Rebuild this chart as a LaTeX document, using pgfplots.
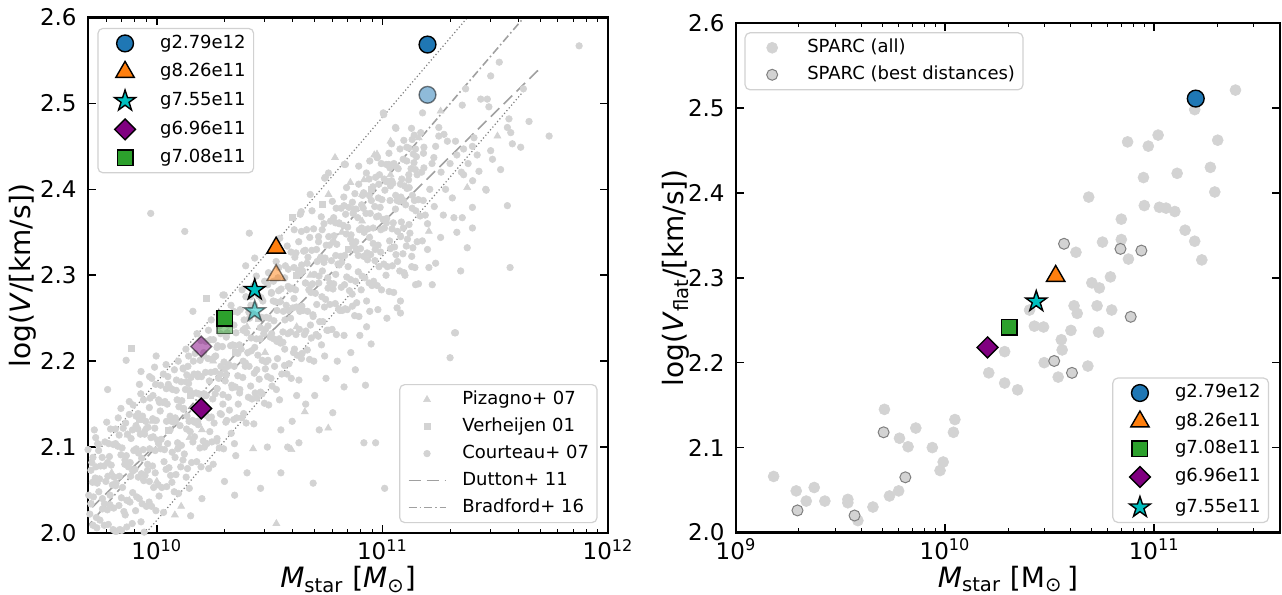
\documentclass[border=0pt]{standalone}
\usepackage{fontspec}
\setmainfont{DejaVu Sans}
\usepackage{pgfplots}
\pgfplotsset{compat=1.18}

\definecolor{cblue}{HTML}{1F77B4}
\definecolor{corange}{HTML}{FF7F0E}
\definecolor{ccyan}{HTML}{00BFBF}
\definecolor{cpurple}{HTML}{800080}
\definecolor{cgreen}{HTML}{2CA02C}
\definecolor{lgray}{HTML}{D3D3D3}
\definecolor{dgray}{HTML}{A0A0A0}
\definecolor{mgray}{HTML}{808080}

% filled star and square diamond (matplotlib '*' and 'D')
\pgfdeclareplotmark{fstar}{%
  \pgfpathmoveto{\pgfpointpolar{90}{\pgfplotmarksize}}%
  \pgfpathlineto{\pgfpointpolar{126}{0.382\pgfplotmarksize}}%
  \pgfpathlineto{\pgfpointpolar{162}{\pgfplotmarksize}}%
  \pgfpathlineto{\pgfpointpolar{198}{0.382\pgfplotmarksize}}%
  \pgfpathlineto{\pgfpointpolar{234}{\pgfplotmarksize}}%
  \pgfpathlineto{\pgfpointpolar{270}{0.382\pgfplotmarksize}}%
  \pgfpathlineto{\pgfpointpolar{306}{\pgfplotmarksize}}%
  \pgfpathlineto{\pgfpointpolar{342}{0.382\pgfplotmarksize}}%
  \pgfpathlineto{\pgfpointpolar{18}{\pgfplotmarksize}}%
  \pgfpathlineto{\pgfpointpolar{54}{0.382\pgfplotmarksize}}%
  \pgfpathclose\pgfusepathqfillstroke}
\pgfdeclareplotmark{fdiamond}{%
  \pgfpathmoveto{\pgfqpoint{0pt}{\pgfplotmarksize}}%
  \pgfpathlineto{\pgfqpoint{\pgfplotmarksize}{0pt}}%
  \pgfpathlineto{\pgfqpoint{0pt}{-\pgfplotmarksize}}%
  \pgfpathlineto{\pgfqpoint{-\pgfplotmarksize}{0pt}}%
  \pgfpathclose\pgfusepathqfillstroke}

\pgfplotsset{
  frame/.style={
    scale only axis, axis on top,
    axis line style={line width=1.25pt},
    tick align=inside,
    major tick length=4pt, minor tick length=2.2pt,
    major tick style={black,line width=0.8pt},
    minor tick style={black,line width=0.5pt},
    ymin=2.0, ymax=2.6,
    ytick={2.0,2.1,2.2,2.3,2.4,2.5,2.6},
    yticklabels={2.0,2.1,2.2,2.3,2.4,2.5,2.6},
    tick label style={font=\fontsize{11.5}{13}\selectfont},
    yticklabel style={anchor=east,inner sep=0pt,xshift=-5.5pt},
    xticklabel style={anchor=base,yshift=-13.5pt},
    label style={font=\fontsize{14}{16}\selectfont},
    xlabel style={at={(axis description cs:0.5,0)},anchor=base,yshift=-27.5pt},
  },
  leg/.style={
    legend cell align=left,
    legend style={font=\fontsize{9}{10}\selectfont, draw=black!18, line width=0.6pt,
      rounded corners=2.5pt, fill=white, inner xsep=4pt, inner ysep=3pt, row sep=4.5pt,
      nodes={inner sep=0pt, text height=6.8pt, text depth=2.2pt},
      /tikz/every odd column/.append style={column sep=8pt}},
    legend image post style={sharp corners},
    legend image code/.code={\draw[mark repeat=2,mark phase=2,##1] plot coordinates {(0pt,0pt) (9.25pt,0pt) (18.5pt,0pt)};},
  },
  mleg/.style={legend image code/.code={\path (0pt,0pt) (18.5pt,0pt); \draw[##1] plot coordinates {(9.25pt,0pt)};}},
  simsolid/.style={only marks, mleg, mark options={draw=black, line width=0.7pt}},
  simfaded/.style={only marks, forget plot, mark options={draw=black, line width=0.7pt, fill opacity=0.5, draw opacity=0.5}},
  obs/.style={only marks, mleg, color=lgray, mark options={draw=lgray, fill=lgray, line width=0.3pt}},
}

\begin{document}
\begin{tikzpicture}
\path[use as bounding box] (0,0) rectangle (641pt,297.5pt);

% ---------------- left panel: observed sample and relations
\begin{axis}[frame, leg,
  at={(44pt,31pt)}, anchor=south west, width=260pt, height=257.75pt,
  xmin=9.695, xmax=12,
  xtick={10,11,12},
  xticklabels={10\textsuperscript{10},10\textsuperscript{11},10\textsuperscript{12}},
  minor xtick={9.69897,9.77815,9.84510,9.90309,9.95424,10.30103,10.47712,10.60206,10.69897,10.77815,10.84510,10.90309,10.95424,11.30103,11.47712,11.60206,11.69897,11.77815,11.84510,11.90309,11.95424},
  xlabel={\textit{M}\textsubscript{star} [\textit{M}\textsubscript{⊙}]},
  ylabel={log(\textit{V}/[km/s])},
  ylabel style={at={(axis description cs:-0.125,0.5)},anchor=center},
  legend style={at={(0.980,0.019)},anchor=south east},
]
% Pizagno+ 07
\addplot[obs, mark=triangle*, mark size=2.0pt] coordinates {
(10.656,2.141) (10.76,2.122) (10.597,2.097) (10.427,2.098) (10.53,2.011) (10.108,2.031) (10.08,2.021)
(9.945,2.12) (9.871,2.114) (10.145,2.111) (9.878,2.038) (11.036,2.456) (11.161,2.46) (11.258,2.491)
(10.858,2.408) (10.91,2.394) (10.761,2.394) (11.036,2.417) (10.918,2.411) (10.964,2.44) (10.79,2.437)
(10.976,2.441) (10.91,2.363) (11.206,2.351) (11.51,2.462) (11.376,2.402) (10.40,2.24) (10.30,2.19)
(10.55,2.27) (10.68,2.30) (10.25,2.20) (10.48,2.21) (9.98,2.13) (10.2,2.12) (10.62,2.24) (10.82,2.35)
(9.80,2.07) (10.0,2.06)};
\addlegendentry{Pizagno+ 07}
% Verheijen 01
\addplot[obs, mark=square*, mark size=1.5pt] coordinates {
(10.219,2.273) (9.886,2.215) (9.923,2.132) (10.732,2.382) (10.60,2.367) (10.45,2.25) (10.62,2.30)
(10.85,2.33) (10.35,2.21) (10.15,2.16) (10.95,2.40) (10.05,2.12)};
\addlegendentry{Verheijen 01}
% Courteau+ 07
\addplot[obs, mark=*, mark size=1.65pt] coordinates {
(9.696,1.943) (9.706,1.974) (9.693,1.995) (9.703,2.022) (9.698,2.044) (9.708,2.073) (9.695,2.097)
(9.730,1.962) (9.722,1.989) (9.732,2.018) (9.719,2.042) (9.727,2.064) (9.717,2.088) (9.729,2.111)
(9.744,1.949) (9.754,1.979) (9.748,2.015) (9.759,2.028) (9.746,2.063) (9.751,2.078) (9.741,2.103)
(9.777,1.980) (9.767,2.009) (9.781,2.027) (9.774,2.060) (9.782,2.082) (9.770,2.106) (9.778,2.129)
(9.796,1.974) (9.806,2.004) (9.793,2.044) (9.803,2.056) (9.798,2.079) (9.808,2.103) (9.795,2.121)
(9.830,1.973) (9.822,2.002) (9.832,2.032) (9.819,2.058) (9.827,2.101) (9.817,2.121) (9.829,2.134)
(9.844,2.003) (9.854,2.025) (9.848,2.053) (9.859,2.085) (9.846,2.099) (9.851,2.122) (9.841,2.145)
(9.877,1.996) (9.867,2.007) (9.881,2.036) (9.874,2.077) (9.882,2.082) (9.870,2.115) (9.878,2.138)
(9.896,1.995) (9.906,2.026) (9.893,2.047) (9.903,2.074) (9.898,2.096) (9.908,2.125) (9.895,2.149)
(9.930,2.013) (9.922,2.040) (9.932,2.069) (9.919,2.093) (9.927,2.115) (9.917,2.139) (9.929,2.162)
(9.944,2.001) (9.954,2.031) (9.948,2.067) (9.959,2.080) (9.946,2.115) (9.951,2.130) (9.941,2.155)
(9.977,2.031) (9.967,2.060) (9.981,2.078) (9.974,2.111) (9.982,2.133) (9.970,2.157) (9.978,2.180)
(9.996,2.026) (10.006,2.056) (9.993,2.096) (10.003,2.108) (9.998,2.131) (10.008,2.155) (9.995,2.173)
(10.030,2.024) (10.022,2.053) (10.032,2.083) (10.019,2.109) (10.027,2.152) (10.017,2.172) (10.029,2.185)
(10.044,2.054) (10.054,2.076) (10.048,2.104) (10.059,2.136) (10.046,2.150) (10.051,2.173) (10.041,2.196)
(10.077,2.048) (10.067,2.059) (10.081,2.088) (10.074,2.129) (10.082,2.134) (10.070,2.167) (10.078,2.190)
(10.096,2.046) (10.106,2.077) (10.093,2.098) (10.103,2.125) (10.098,2.147) (10.108,2.176) (10.095,2.200)
(10.130,2.065) (10.122,2.092) (10.132,2.121) (10.119,2.145) (10.127,2.167) (10.117,2.191) (10.129,2.214)
(10.144,2.052) (10.154,2.082) (10.148,2.118) (10.159,2.131) (10.146,2.166) (10.151,2.181) (10.141,2.206)
(10.177,2.083) (10.167,2.112) (10.181,2.130) (10.174,2.163) (10.182,2.185) (10.170,2.209) (10.178,2.232)
(10.196,2.077) (10.206,2.107) (10.193,2.147) (10.203,2.159) (10.198,2.182) (10.208,2.206) (10.195,2.224)
(10.230,2.075) (10.222,2.104) (10.232,2.134) (10.219,2.160) (10.227,2.203) (10.217,2.223) (10.229,2.236)
(10.244,2.106) (10.254,2.128) (10.248,2.156) (10.259,2.188) (10.246,2.202) (10.251,2.225) (10.241,2.248)
(10.277,2.099) (10.267,2.110) (10.281,2.139) (10.274,2.180) (10.282,2.185) (10.270,2.218) (10.278,2.241)
(10.296,2.098) (10.306,2.129) (10.293,2.150) (10.303,2.177) (10.298,2.199) (10.308,2.228) (10.295,2.252)
(10.330,2.116) (10.322,2.143) (10.332,2.172) (10.319,2.196) (10.327,2.218) (10.317,2.242) (10.329,2.265)
(10.344,2.104) (10.354,2.134) (10.348,2.170) (10.359,2.183) (10.346,2.218) (10.351,2.233) (10.341,2.258)
(10.377,2.134) (10.367,2.163) (10.381,2.181) (10.374,2.214) (10.382,2.236) (10.370,2.260) (10.378,2.283)
(10.396,2.128) (10.406,2.158) (10.393,2.198) (10.403,2.210) (10.398,2.233) (10.408,2.257) (10.395,2.275)
(10.430,2.127) (10.422,2.156) (10.432,2.186) (10.419,2.212) (10.427,2.255) (10.417,2.275) (10.429,2.288)
(10.444,2.157) (10.454,2.179) (10.448,2.207) (10.459,2.239) (10.446,2.253) (10.451,2.276) (10.441,2.299)
(10.477,2.151) (10.467,2.162) (10.481,2.191) (10.474,2.232) (10.482,2.237) (10.470,2.270) (10.478,2.293)
(10.496,2.149) (10.506,2.180) (10.493,2.201) (10.503,2.228) (10.498,2.250) (10.508,2.279) (10.495,2.303)
(10.530,2.167) (10.522,2.194) (10.532,2.223) (10.519,2.247) (10.527,2.269) (10.517,2.293) (10.529,2.316)
(10.544,2.155) (10.554,2.185) (10.548,2.221) (10.559,2.234) (10.546,2.269) (10.551,2.284) (10.541,2.309)
(10.577,2.185) (10.567,2.214) (10.581,2.232) (10.574,2.265) (10.582,2.287) (10.570,2.311) (10.578,2.334)
(10.596,2.180) (10.606,2.210) (10.593,2.250) (10.603,2.262) (10.598,2.285) (10.608,2.309) (10.595,2.327)
(10.630,2.178) (10.622,2.207) (10.632,2.237) (10.619,2.263) (10.627,2.306) (10.617,2.326) (10.629,2.339)
(10.644,2.209) (10.654,2.231) (10.648,2.259) (10.659,2.291) (10.646,2.305) (10.651,2.328) (10.641,2.351)
(10.677,2.202) (10.667,2.213) (10.681,2.242) (10.674,2.283) (10.682,2.288) (10.670,2.321) (10.678,2.344)
(10.696,2.200) (10.706,2.231) (10.693,2.252) (10.703,2.279) (10.698,2.301) (10.708,2.330) (10.695,2.354)
(10.730,2.219) (10.722,2.246) (10.732,2.275) (10.719,2.299) (10.727,2.321) (10.717,2.345) (10.729,2.368)
(10.744,2.206) (10.754,2.236) (10.748,2.272) (10.759,2.285) (10.746,2.320) (10.751,2.335) (10.741,2.360)
(10.777,2.237) (10.767,2.266) (10.781,2.284) (10.774,2.317) (10.782,2.339) (10.770,2.363) (10.778,2.386)
(10.796,2.231) (10.806,2.261) (10.793,2.301) (10.803,2.313) (10.798,2.336) (10.808,2.360) (10.795,2.378)
(10.830,2.230) (10.822,2.259) (10.832,2.289) (10.819,2.315) (10.827,2.358) (10.817,2.378) (10.829,2.391)
(10.844,2.260) (10.854,2.282) (10.848,2.310) (10.859,2.342) (10.846,2.356) (10.851,2.379) (10.841,2.402)
(10.877,2.253) (10.867,2.264) (10.881,2.293) (10.874,2.334) (10.882,2.339) (10.870,2.372) (10.878,2.395)
(10.896,2.252) (10.906,2.283) (10.893,2.304) (10.903,2.331) (10.898,2.353) (10.908,2.382) (10.895,2.406)
(10.930,2.270) (10.922,2.297) (10.932,2.326) (10.919,2.350) (10.927,2.372) (10.917,2.396) (10.929,2.419)
(10.944,2.258) (10.954,2.288) (10.948,2.324) (10.959,2.337) (10.946,2.372) (10.951,2.387) (10.941,2.412)
(10.977,2.288) (10.967,2.317) (10.981,2.335) (10.974,2.368) (10.982,2.390) (10.970,2.414) (10.978,2.437)
(10.996,2.283) (11.006,2.313) (10.993,2.353) (11.003,2.365) (10.998,2.388) (11.008,2.412) (10.995,2.430)
(11.030,2.281) (11.022,2.310) (11.032,2.340) (11.019,2.366) (11.027,2.409) (11.017,2.429) (11.029,2.442)
(11.044,2.311) (11.054,2.333) (11.048,2.361) (11.059,2.393) (11.046,2.407) (11.051,2.430) (11.041,2.453)
(11.077,2.305) (11.067,2.316) (11.081,2.345) (11.074,2.386) (11.082,2.391) (11.070,2.424) (11.078,2.447)
(11.096,2.303) (11.106,2.334) (11.093,2.355) (11.103,2.382) (11.098,2.404) (11.108,2.433) (11.095,2.457)
(11.130,2.322) (11.122,2.349) (11.132,2.378) (11.119,2.402) (11.127,2.424) (11.117,2.448) (11.129,2.471)
(11.144,2.309) (11.154,2.339) (11.148,2.375) (11.159,2.388) (11.146,2.423) (11.151,2.438) (11.141,2.463)
(11.177,2.340) (11.167,2.369) (11.181,2.387) (11.174,2.420) (11.182,2.442) (11.170,2.466) (11.178,2.489)
(9.710,1.972) (9.717,2.009) (9.708,2.034) (9.715,2.059) (9.712,2.082)
(9.741,1.989) (9.734,2.006) (9.743,2.048) (9.736,2.058) (9.742,2.096)
(9.761,1.979) (9.768,2.034) (9.759,2.040) (9.766,2.078) (9.758,2.088)
(9.785,2.010) (9.792,2.033) (9.783,2.066) (9.790,2.089) (9.787,2.104)
(9.816,2.002) (9.809,2.029) (9.818,2.055) (9.811,2.065) (9.817,2.104)
(9.836,2.004) (9.843,2.041) (9.834,2.066) (9.841,2.091) (9.833,2.114)
(9.860,2.021) (9.867,2.038) (9.858,2.080) (9.865,2.090) (9.862,2.128)
(9.891,2.011) (9.884,2.066) (9.893,2.072) (9.886,2.110) (9.892,2.120)
(9.911,2.042) (9.918,2.065) (9.909,2.098) (9.916,2.121) (9.908,2.136)
(9.935,2.034) (9.942,2.061) (9.933,2.087) (9.940,2.097) (9.937,2.136)
(9.966,2.036) (9.959,2.073) (9.968,2.098) (9.961,2.123) (9.967,2.146)
(9.986,2.053) (9.993,2.070) (9.984,2.112) (9.991,2.122) (9.983,2.160)
(10.010,2.043) (10.017,2.098) (10.008,2.104) (10.015,2.142) (10.012,2.152)
(10.041,2.074) (10.034,2.097) (10.043,2.130) (10.036,2.153) (10.042,2.168)
(10.061,2.067) (10.068,2.094) (10.059,2.120) (10.066,2.130) (10.058,2.169)
(10.085,2.068) (10.092,2.105) (10.083,2.130) (10.090,2.155) (10.087,2.178)
(10.116,2.085) (10.109,2.102) (10.118,2.144) (10.111,2.154) (10.117,2.192)
(10.136,2.075) (10.143,2.130) (10.134,2.136) (10.141,2.174) (10.133,2.184)
(10.160,2.106) (10.167,2.129) (10.158,2.162) (10.165,2.185) (10.162,2.200)
(10.191,2.099) (10.184,2.126) (10.193,2.152) (10.186,2.162) (10.192,2.201)
(10.211,2.100) (10.218,2.137) (10.209,2.162) (10.216,2.187) (10.208,2.210)
(10.235,2.118) (10.242,2.135) (10.233,2.177) (10.240,2.187) (10.237,2.225)
(10.266,2.107) (10.259,2.162) (10.268,2.168) (10.261,2.206) (10.267,2.216)
(10.286,2.138) (10.293,2.161) (10.284,2.194) (10.291,2.217) (10.283,2.232)
(10.310,2.131) (10.317,2.158) (10.308,2.184) (10.315,2.194) (10.312,2.233)
(10.341,2.132) (10.334,2.169) (10.343,2.194) (10.336,2.219) (10.342,2.242)
(10.361,2.150) (10.368,2.167) (10.359,2.209) (10.366,2.219) (10.358,2.257)
(10.385,2.139) (10.392,2.194) (10.383,2.200) (10.390,2.238) (10.387,2.248)
(10.416,2.171) (10.409,2.194) (10.418,2.227) (10.411,2.250) (10.417,2.265)
(10.436,2.163) (10.443,2.190) (10.434,2.216) (10.441,2.226) (10.433,2.265)
(10.460,2.164) (10.467,2.201) (10.458,2.226) (10.465,2.251) (10.462,2.274)
(10.491,2.182) (10.484,2.199) (10.493,2.241) (10.486,2.251) (10.492,2.289)
(10.511,2.171) (10.518,2.226) (10.509,2.232) (10.516,2.270) (10.508,2.280)
(10.535,2.203) (10.542,2.226) (10.533,2.259) (10.540,2.282) (10.537,2.297)
(10.566,2.195) (10.559,2.222) (10.568,2.248) (10.561,2.258) (10.567,2.297)
(10.586,2.197) (10.593,2.234) (10.584,2.259) (10.591,2.284) (10.583,2.307)
(10.610,2.214) (10.617,2.231) (10.608,2.273) (10.615,2.283) (10.612,2.321)
(10.641,2.203) (10.634,2.258) (10.643,2.264) (10.636,2.302) (10.642,2.312)
(10.661,2.235) (10.668,2.258) (10.659,2.291) (10.666,2.314) (10.658,2.329)
(10.685,2.227) (10.692,2.254) (10.683,2.280) (10.690,2.290) (10.687,2.329)
(10.716,2.229) (10.709,2.266) (10.718,2.291) (10.711,2.316) (10.717,2.339)
(10.736,2.246) (10.743,2.263) (10.734,2.305) (10.741,2.315) (10.733,2.353)
(10.760,2.236) (10.767,2.291) (10.758,2.297) (10.765,2.335) (10.762,2.345)
(10.791,2.267) (10.784,2.290) (10.793,2.323) (10.786,2.346) (10.792,2.361)
(10.811,2.259) (10.818,2.286) (10.809,2.312) (10.816,2.322) (10.808,2.361)
(10.835,2.261) (10.842,2.298) (10.833,2.323) (10.840,2.348) (10.837,2.371)
(10.866,2.278) (10.859,2.295) (10.868,2.337) (10.861,2.347) (10.867,2.385)
(10.886,2.268) (10.893,2.323) (10.884,2.329) (10.891,2.367) (10.883,2.377)
(10.910,2.299) (10.917,2.322) (10.908,2.355) (10.915,2.378) (10.912,2.393)
(10.941,2.291) (10.934,2.318) (10.943,2.344) (10.936,2.354) (10.942,2.393)
(10.961,2.293) (10.968,2.330) (10.959,2.355) (10.966,2.380) (10.958,2.403)
(10.985,2.310) (10.992,2.327) (10.983,2.369) (10.990,2.379) (10.987,2.417)
(11.016,2.300) (11.009,2.355) (11.018,2.361) (11.011,2.399) (11.017,2.409)
(11.036,2.331) (11.043,2.354) (11.034,2.387) (11.041,2.410) (11.033,2.425)
(11.060,2.324) (11.067,2.351) (11.058,2.377) (11.065,2.387) (11.062,2.426)
(11.091,2.325) (11.084,2.362) (11.093,2.387) (11.086,2.412) (11.092,2.435)
(11.111,2.342) (11.118,2.359) (11.109,2.401) (11.116,2.411) (11.108,2.449)
(11.135,2.332) (11.142,2.387) (11.133,2.393) (11.140,2.431) (11.137,2.441)
(11.872,2.567) (11.739,2.462) (11.650,2.479) (11.561,2.482) (11.569,2.466) (11.576,2.453) (11.613,2.449)
(11.554,2.472) (11.518,2.548) (11.480,2.532) (11.465,2.505) (11.436,2.505) (11.472,2.496) (11.369,2.517)
(11.354,2.498) (11.625,2.517) (11.524,2.423) (11.480,2.445) (11.488,2.435) (11.460,2.399) (11.554,2.381)
(11.566,2.309) (11.347,2.305) (11.399,2.379) (11.399,2.355) (11.376,2.332) (11.317,2.367) (11.354,2.367)
(11.258,2.344) (11.221,2.289) (11.236,2.314) (11.206,2.309) (11.147,2.289) (11.324,2.233) (11.080,2.256)
(11.065,2.262) (11.428,2.421) (11.360,2.417) (11.324,2.456) (11.360,2.447) (11.399,2.450) (11.406,2.460)
(11.288,2.456) (11.273,2.464) (11.250,2.472) (11.250,2.462) (11.236,2.450) (11.184,2.449) (11.147,2.447)
(11.132,2.458) (11.058,2.472) (11.006,2.487) (10.944,2.433) (10.895,2.427) (10.836,2.429) (10.761,2.419)
(10.747,2.414) (10.984,2.406) (11.028,2.429) (10.976,2.437) (10.680,2.394) (10.636,2.371) (10.688,2.375)
(10.784,2.367) (10.830,2.381) (10.873,2.377) (11.036,2.404) (11.080,2.406) (11.117,2.417) (11.154,2.417)
(11.184,2.425) (11.228,2.437) (11.458,2.400)
(11.21,2.40) (11.23,2.38) (11.26,2.42) (11.28,2.40) (11.30,2.43) (11.31,2.39) (11.33,2.44) (11.35,2.42)
(11.38,2.43) (11.40,2.41) (11.42,2.44) (11.22,2.43) (11.27,2.37) (11.33,2.35) (11.20,2.36) (11.19,2.37)
(9.973,2.372) (10.124,2.351) (10.410,2.349) (10.434,2.320) (10.394,2.311) (10.299,2.277) (11.004,2.489)
(11.060,2.471) (10.831,2.429) (10.744,2.413) (10.640,2.374) (10.609,2.353) (10.545,2.343) (10.664,2.353)
(10.160,2.258) (10.293,2.277) (9.997,2.206) (9.923,2.173) (9.930,2.188) (9.782,2.167) (9.864,2.201)
(9.878,2.153) (9.968,2.182) (9.990,2.193) (10.086,2.166) (10.138,2.194) (10.256,2.205) (10.130,2.176)
(10.182,2.182) (10.049,2.182) (9.693,2.128) (9.723,2.120) (9.738,2.104) (9.730,2.077) (9.708,2.034)
(10.49,2.10) (10.55,2.12) (10.60,2.13) (10.63,2.105) (10.66,2.15) (10.70,2.16) (10.72,2.12) (10.75,2.18)
(10.78,2.14) (10.80,2.20) (10.83,2.17) (10.86,2.21) (10.88,2.19) (10.90,2.23) (10.93,2.24) (10.95,2.22)
(10.98,2.26) (11.02,2.25) (11.05,2.28) (11.08,2.27) (11.10,2.30) (11.13,2.31) (11.16,2.29) (11.20,2.33)
(10.693,2.058) (10.460,2.052) (10.345,2.044) (11.010,2.052) (11.300,2.204) (11.320,2.233) (10.925,2.172)
(10.970,2.105) (10.918,2.105) (10.40,2.07) (10.35,2.09) (10.30,2.06) (10.25,2.08) (10.20,2.04) (10.15,2.02)
(10.55,2.07) (10.62,2.16) (10.58,2.10)};
\addlegendentry{Courteau+ 07}
% Dutton+ 11
\addplot[no marks, dgray, line width=0.8pt, dash pattern=on 6pt off 3pt] coordinates {(9.60,2.0007) (11.695,2.5398)};
\addlegendentry{Dutton+ 11}
% Bradford+ 16
\addplot[no marks, dgray, line width=0.8pt, dash pattern=on 4pt off 1.5pt on 0.8pt off 1.5pt] coordinates {(9.60,1.979) (11.65,2.607)};
\addlegendentry{Bradford+ 16}
% scatter envelope
\addplot[no marks, mgray, line width=0.6pt, dash pattern=on 0.6pt off 1.2pt, forget plot] coordinates {(9.60,2.0527) (11.40,2.607)};
\addplot[no marks, mgray, line width=0.6pt, dash pattern=on 0.6pt off 1.2pt, forget plot] coordinates {(9.85,1.9687) (11.628,2.515)};
\end{axis}

% ---------------- left panel: simulated galaxies
\begin{axis}[leg, hide axis, scale only axis,
  at={(44pt,31pt)}, anchor=south west, width=260pt, height=257.75pt,
  xmin=9.695, xmax=12, ymin=2.0, ymax=2.6,
  legend style={at={(0.018,0.980)},anchor=north west},
]
\addplot[simfaded, mark=*, mark size=4.2pt, fill=cblue] coordinates {(11.20,2.510)};
\addplot[simfaded, mark=triangle*, mark size=5.3pt, fill=corange] coordinates {(10.529,2.300)};
\addplot[simfaded, mark=fstar, mark size=5.5pt, fill=ccyan] coordinates {(10.434,2.258)};
\addplot[simfaded, mark=fdiamond, mark size=5.2pt, fill=cpurple] coordinates {(10.197,2.217)};
\addplot[simfaded, mark=square*, mark size=3.9pt, fill=cgreen] coordinates {(10.301,2.241)};
\addplot[simsolid, mark=*, mark size=4.2pt, fill=cblue] coordinates {(11.20,2.5685)};
\addlegendentry{g2.79e12}
\addplot[simsolid, mark=triangle*, mark size=5.3pt, fill=corange] coordinates {(10.529,2.332)};
\addlegendentry{g8.26e11}
\addplot[simsolid, mark=fstar, mark size=5.5pt, fill=ccyan] coordinates {(10.434,2.283)};
\addlegendentry{g7.55e11}
\addplot[simsolid, mark=fdiamond, mark size=5.2pt, fill=cpurple] coordinates {(10.197,2.145)};
\addlegendentry{g6.96e11}
\addplot[simsolid, mark=square*, mark size=3.9pt, fill=cgreen] coordinates {(10.301,2.250)};
\addlegendentry{g7.08e11}
\end{axis}

% ---------------- right panel: SPARC
\begin{axis}[frame, leg,
  at={(368pt,31.25pt)}, anchor=south west, width=272pt, height=254.75pt,
  xmin=9, xmax=11.602,
  xtick={9,10,11},
  xticklabels={10\textsuperscript{9},10\textsuperscript{10},10\textsuperscript{11}},
  minor xtick={9.30103,9.47712,9.60206,9.69897,9.77815,9.84510,9.90309,9.95424,10.30103,10.47712,10.60206,10.69897,10.77815,10.84510,10.90309,10.95424,11.30103,11.47712},
  xlabel={\textit{M}\textsubscript{star} [M\textsubscript{⊙}\,]},
  ylabel={log(\textit{V}\textsubscript{flat}/[km/s])},
  ylabel style={at={(axis description cs:-0.1103,0.5)},anchor=center},
  legend style={at={(0.0156,0.982)},anchor=north west},
]
\addplot[obs, mark=*, mark size=2.75pt] coordinates {
(11.389,2.521) (11.194,2.498) (11.019,2.468) (10.873,2.460) (10.972,2.455) (11.304,2.462) (11.269,2.430)
(10.949,2.418) (11.110,2.423) (11.290,2.401) (10.687,2.395) (10.953,2.385) (11.025,2.383) (11.057,2.382)
(11.099,2.378) (10.843,2.369) (11.148,2.356) (11.194,2.343) (11.228,2.321) (10.753,2.342) (10.843,2.345)
(10.877,2.322) (10.626,2.330) (10.791,2.301) (10.702,2.294) (10.738,2.288)
(10.404,2.262) (10.617,2.267) (10.632,2.258) (10.727,2.267) (10.797,2.262) (10.427,2.243) (10.471,2.242)
(10.602,2.238) (10.556,2.227) (10.560,2.215) (10.734,2.236) (10.285,2.213) (10.474,2.200) (10.541,2.183)
(10.683,2.196) (10.209,2.188) (10.285,2.176) (10.347,2.168)
(9.710,2.145) (9.782,2.111) (9.860,2.123) (9.823,2.101) (9.939,2.100) (9.991,2.083) (9.976,2.073)
(10.047,2.133) (10.040,2.118) (9.180,2.066) (9.288,2.049) (9.336,2.037) (9.374,2.053) (9.425,2.037)
(9.535,2.039) (9.535,2.035) (9.583,2.014) (9.655,2.030) (9.734,2.043) (9.778,2.049)};
\addlegendentry{SPARC (all)}
\addplot[only marks, mleg, mark=*, mark size=2.75pt, mark options={draw=mgray,line width=0.5pt,fill=lgray}] coordinates {
(10.569,2.340) (10.839,2.334) (10.939,2.332) (10.888,2.254) (10.522,2.202) (10.607,2.188)
(9.706,2.118) (9.810,2.065) (9.294,2.026) (9.567,2.020)};
\addlegendentry{SPARC (best distances)}
\end{axis}

% ---------------- right panel: simulated galaxies
\begin{axis}[leg, hide axis, scale only axis,
  at={(368pt,31.25pt)}, anchor=south west, width=272pt, height=254.75pt,
  xmin=9, xmax=11.602, ymin=2.0, ymax=2.6,
  legend style={at={(0.98,0.0186)},anchor=south east},
]
\addplot[simsolid, mark=*, mark size=4.2pt, fill=cblue] coordinates {(11.199,2.511)};
\addlegendentry{g2.79e12}
\addplot[simsolid, mark=triangle*, mark size=5.3pt, fill=corange] coordinates {(10.529,2.302)};
\addlegendentry{g8.26e11}
\addplot[simsolid, mark=square*, mark size=3.9pt, fill=cgreen] coordinates {(10.307,2.242)};
\addlegendentry{g7.08e11}
\addplot[simsolid, mark=fdiamond, mark size=5.2pt, fill=cpurple] coordinates {(10.203,2.218)};
\addlegendentry{g6.96e11}
\addplot[simsolid, mark=fstar, mark size=5.5pt, fill=ccyan] coordinates {(10.436,2.272)};
\addlegendentry{g7.55e11}
\end{axis}
\end{tikzpicture}
\end{document}
